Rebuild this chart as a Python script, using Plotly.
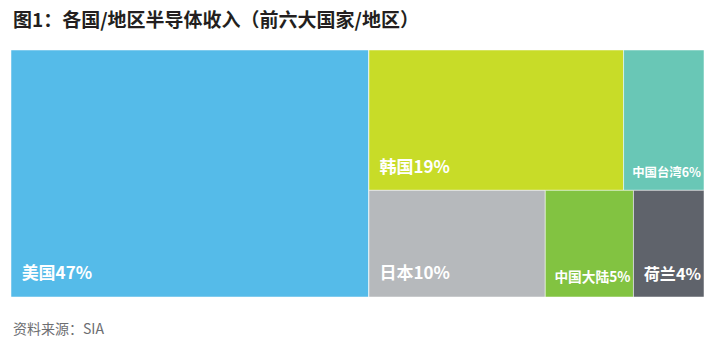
import plotly.graph_objects as go

# Revenue share by country/region (top six), percent
regions = ["美国", "韩国", "中国台湾", "日本", "中国大陆", "荷兰"]
shares = [47, 19, 6, 10, 5, 4]
colors = ["#55bbe9", "#c8dc28", "#69c7b6", "#b6b9bc", "#82c341", "#5f636b"]

# Tiling groups: USA on the left, the rest split into an upper and a lower row
upper = ["韩国", "中国台湾"]
lower = ["日本", "中国大陆", "荷兰"]

share_of = dict(zip(regions, shares))
color_of = dict(zip(regions, colors))

ids, labels, parents, values, texts, node_colors = [], [], [], [], [], []


def add(node_id, label, parent, value, text, color):
    ids.append(node_id)
    labels.append(label)
    parents.append(parent)
    values.append(value)
    texts.append(text)
    node_colors.append(color)


def tile_text(r):
    # bold label, nudged in from the tile's left and bottom edges
    return (f"<span style='font-size:17px'>&nbsp;&nbsp;<b>{r}{share_of[r]}%</b></span>"
            "<br> ")


add("root", "", "", 0, "", "#ffffff")
add("美国", "美国", "root", share_of["美国"], tile_text("美国"), color_of["美国"])
add("rest", "", "root", 0, "", "#ffffff")
add("upper", "", "rest", 0, "", "#ffffff")
for r in upper:
    add(r, r, "upper", share_of[r], tile_text(r), color_of[r])
add("lower", "", "rest", 0, "", "#ffffff")
for r in lower:
    add(r, r, "lower", share_of[r], tile_text(r), color_of[r])

fig = go.Figure(go.Treemap(
    ids=ids,
    labels=labels,
    parents=parents,
    values=values,
    branchvalues="remainder",
    text=texts,
    textinfo="text",
    textposition="bottom left",
    textfont=dict(family="Noto Sans CJK SC", size=9, color="white"),
    marker=dict(colors=node_colors, line=dict(width=0.5, color="white"),
                pad=dict(t=0, l=0, r=0, b=0)),
    tiling=dict(packing="slice-dice", pad=0),
    pathbar=dict(visible=False),
    hoverinfo="skip",
    sort=False,
))

fig.update_layout(
    width=711, height=347,
    margin=dict(l=11, r=7, t=50, b=50),
    paper_bgcolor="white",
    font=dict(family="Noto Sans CJK SC"),
    annotations=[
        dict(text="<b>图1：各国/地区半导体收入（前六大国家/地区）</b>",
             x=0, y=1, xref="paper", yref="paper", xanchor="left", yanchor="top",
             xshift=0, yshift=47, showarrow=False,
             font=dict(size=19, color="#231f20")),
        dict(text="资料来源：SIA",
             x=0, y=0, xref="paper", yref="paper", xanchor="left", yanchor="top",
             xshift=0, yshift=-19, showarrow=False,
             font=dict(size=14, color="#6d6e71")),
    ],
)

fig.write_html("out.html")
